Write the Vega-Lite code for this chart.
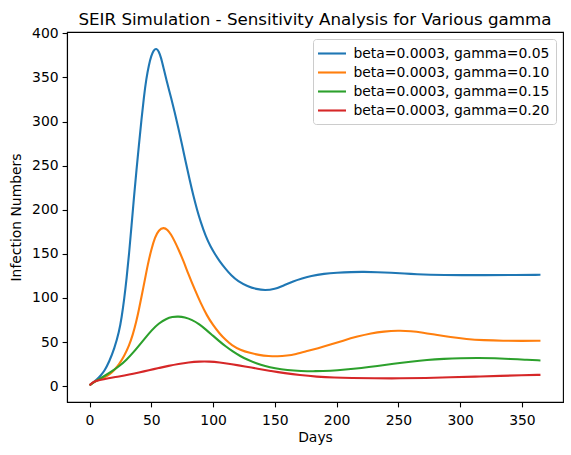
{
  "$schema": "https://vega.github.io/schema/vega-lite/v6.json",
  "autosize": {"type": "none"},
  "width": 496,
  "height": 370,
  "padding": {"left": 67, "top": 32, "right": 8, "bottom": 53},
  "background": "white",
  "title": {
    "text": "SEIR Simulation - Sensitivity Analysis for Various gamma",
    "font": "DejaVu Sans",
    "fontSize": 16.7,
    "fontWeight": "normal",
    "color": "black",
    "anchor": "middle",
    "baseline": "alphabetic",
    "offset": -15
  },
  "config": {
    "font": "DejaVu Sans",
    "view": {"stroke": "black", "strokeWidth": 1.1},
    "axis": {
      "grid": false,
      "domainColor": "black",
      "domainWidth": 1.1,
      "tickColor": "black",
      "tickWidth": 1.1,
      "tickSize": 4.9,
      "labelFont": "DejaVu Sans",
      "labelFontSize": 13.9,
      "labelColor": "black",
      "labelPadding": 4,
      "titleFont": "DejaVu Sans",
      "titleFontSize": 13.9,
      "titleFontWeight": "normal",
      "titleColor": "black"
    }
  },
  "datasets": {
    "seir": [
      {"day": 0, "infected": 1, "series": "beta=0.0003, gamma=0.05"},
      {"day": 3, "infected": 4, "series": "beta=0.0003, gamma=0.05"},
      {"day": 6, "infected": 7.5, "series": "beta=0.0003, gamma=0.05"},
      {"day": 9, "infected": 12, "series": "beta=0.0003, gamma=0.05"},
      {"day": 12, "infected": 17, "series": "beta=0.0003, gamma=0.05"},
      {"day": 16, "infected": 28, "series": "beta=0.0003, gamma=0.05"},
      {"day": 20, "infected": 42, "series": "beta=0.0003, gamma=0.05"},
      {"day": 24, "infected": 62, "series": "beta=0.0003, gamma=0.05"},
      {"day": 26, "infected": 78, "series": "beta=0.0003, gamma=0.05"},
      {"day": 28, "infected": 98, "series": "beta=0.0003, gamma=0.05"},
      {"day": 30, "infected": 122, "series": "beta=0.0003, gamma=0.05"},
      {"day": 32, "infected": 150, "series": "beta=0.0003, gamma=0.05"},
      {"day": 34, "infected": 182, "series": "beta=0.0003, gamma=0.05"},
      {"day": 36, "infected": 215, "series": "beta=0.0003, gamma=0.05"},
      {"day": 38, "infected": 245, "series": "beta=0.0003, gamma=0.05"},
      {"day": 40, "infected": 274, "series": "beta=0.0003, gamma=0.05"},
      {"day": 42, "infected": 302, "series": "beta=0.0003, gamma=0.05"},
      {"day": 44, "infected": 328, "series": "beta=0.0003, gamma=0.05"},
      {"day": 46, "infected": 349, "series": "beta=0.0003, gamma=0.05"},
      {"day": 48, "infected": 364, "series": "beta=0.0003, gamma=0.05"},
      {"day": 50, "infected": 375, "series": "beta=0.0003, gamma=0.05"},
      {"day": 52, "infected": 381, "series": "beta=0.0003, gamma=0.05"},
      {"day": 54, "infected": 383, "series": "beta=0.0003, gamma=0.05"},
      {"day": 56, "infected": 380, "series": "beta=0.0003, gamma=0.05"},
      {"day": 58, "infected": 372, "series": "beta=0.0003, gamma=0.05"},
      {"day": 60, "infected": 360, "series": "beta=0.0003, gamma=0.05"},
      {"day": 63, "infected": 343, "series": "beta=0.0003, gamma=0.05"},
      {"day": 66, "infected": 327, "series": "beta=0.0003, gamma=0.05"},
      {"day": 69, "infected": 310, "series": "beta=0.0003, gamma=0.05"},
      {"day": 72, "infected": 292, "series": "beta=0.0003, gamma=0.05"},
      {"day": 75, "infected": 273, "series": "beta=0.0003, gamma=0.05"},
      {"day": 78, "infected": 253, "series": "beta=0.0003, gamma=0.05"},
      {"day": 81, "infected": 234, "series": "beta=0.0003, gamma=0.05"},
      {"day": 84, "infected": 216, "series": "beta=0.0003, gamma=0.05"},
      {"day": 87, "infected": 200, "series": "beta=0.0003, gamma=0.05"},
      {"day": 90, "infected": 186, "series": "beta=0.0003, gamma=0.05"},
      {"day": 94, "infected": 170, "series": "beta=0.0003, gamma=0.05"},
      {"day": 98, "infected": 158, "series": "beta=0.0003, gamma=0.05"},
      {"day": 101, "infected": 151, "series": "beta=0.0003, gamma=0.05"},
      {"day": 105, "infected": 142, "series": "beta=0.0003, gamma=0.05"},
      {"day": 110, "infected": 133, "series": "beta=0.0003, gamma=0.05"},
      {"day": 115, "infected": 125, "series": "beta=0.0003, gamma=0.05"},
      {"day": 120, "infected": 119, "series": "beta=0.0003, gamma=0.05"},
      {"day": 128, "infected": 113, "series": "beta=0.0003, gamma=0.05"},
      {"day": 135, "infected": 110, "series": "beta=0.0003, gamma=0.05"},
      {"day": 142, "infected": 108.6, "series": "beta=0.0003, gamma=0.05"},
      {"day": 150, "infected": 110, "series": "beta=0.0003, gamma=0.05"},
      {"day": 157, "infected": 114, "series": "beta=0.0003, gamma=0.05"},
      {"day": 165, "infected": 119, "series": "beta=0.0003, gamma=0.05"},
      {"day": 172, "infected": 122, "series": "beta=0.0003, gamma=0.05"},
      {"day": 179, "infected": 125, "series": "beta=0.0003, gamma=0.05"},
      {"day": 190, "infected": 127.5, "series": "beta=0.0003, gamma=0.05"},
      {"day": 200, "infected": 128.6, "series": "beta=0.0003, gamma=0.05"},
      {"day": 212, "infected": 129.4, "series": "beta=0.0003, gamma=0.05"},
      {"day": 222, "infected": 129.6, "series": "beta=0.0003, gamma=0.05"},
      {"day": 233, "infected": 129.2, "series": "beta=0.0003, gamma=0.05"},
      {"day": 244, "infected": 128.5, "series": "beta=0.0003, gamma=0.05"},
      {"day": 255, "infected": 127.6, "series": "beta=0.0003, gamma=0.05"},
      {"day": 265, "infected": 126.9, "series": "beta=0.0003, gamma=0.05"},
      {"day": 276, "infected": 126.3, "series": "beta=0.0003, gamma=0.05"},
      {"day": 287, "infected": 126, "series": "beta=0.0003, gamma=0.05"},
      {"day": 300, "infected": 125.8, "series": "beta=0.0003, gamma=0.05"},
      {"day": 320, "infected": 125.8, "series": "beta=0.0003, gamma=0.05"},
      {"day": 340, "infected": 126, "series": "beta=0.0003, gamma=0.05"},
      {"day": 365, "infected": 126.2, "series": "beta=0.0003, gamma=0.05"},

      {"day": 0, "infected": 1, "series": "beta=0.0003, gamma=0.10"},
      {"day": 4, "infected": 5, "series": "beta=0.0003, gamma=0.10"},
      {"day": 8, "infected": 7.5, "series": "beta=0.0003, gamma=0.10"},
      {"day": 12, "infected": 10, "series": "beta=0.0003, gamma=0.10"},
      {"day": 16, "infected": 13, "series": "beta=0.0003, gamma=0.10"},
      {"day": 20, "infected": 18, "series": "beta=0.0003, gamma=0.10"},
      {"day": 24, "infected": 25, "series": "beta=0.0003, gamma=0.10"},
      {"day": 28, "infected": 34, "series": "beta=0.0003, gamma=0.10"},
      {"day": 32, "infected": 46, "series": "beta=0.0003, gamma=0.10"},
      {"day": 35, "infected": 58, "series": "beta=0.0003, gamma=0.10"},
      {"day": 38, "infected": 74, "series": "beta=0.0003, gamma=0.10"},
      {"day": 40, "infected": 87, "series": "beta=0.0003, gamma=0.10"},
      {"day": 42, "infected": 101, "series": "beta=0.0003, gamma=0.10"},
      {"day": 45, "infected": 122, "series": "beta=0.0003, gamma=0.10"},
      {"day": 47, "infected": 137, "series": "beta=0.0003, gamma=0.10"},
      {"day": 50, "infected": 155, "series": "beta=0.0003, gamma=0.10"},
      {"day": 53, "infected": 169, "series": "beta=0.0003, gamma=0.10"},
      {"day": 56, "infected": 177, "series": "beta=0.0003, gamma=0.10"},
      {"day": 60, "infected": 180, "series": "beta=0.0003, gamma=0.10"},
      {"day": 63, "infected": 177.5, "series": "beta=0.0003, gamma=0.10"},
      {"day": 66, "infected": 172, "series": "beta=0.0003, gamma=0.10"},
      {"day": 69, "infected": 164, "series": "beta=0.0003, gamma=0.10"},
      {"day": 72, "infected": 155, "series": "beta=0.0003, gamma=0.10"},
      {"day": 76, "infected": 142, "series": "beta=0.0003, gamma=0.10"},
      {"day": 80, "infected": 127, "series": "beta=0.0003, gamma=0.10"},
      {"day": 85, "infected": 110, "series": "beta=0.0003, gamma=0.10"},
      {"day": 90, "infected": 94, "series": "beta=0.0003, gamma=0.10"},
      {"day": 95, "infected": 80, "series": "beta=0.0003, gamma=0.10"},
      {"day": 100, "infected": 69, "series": "beta=0.0003, gamma=0.10"},
      {"day": 105, "infected": 60, "series": "beta=0.0003, gamma=0.10"},
      {"day": 110, "infected": 52.5, "series": "beta=0.0003, gamma=0.10"},
      {"day": 115, "infected": 46.5, "series": "beta=0.0003, gamma=0.10"},
      {"day": 122, "infected": 41, "series": "beta=0.0003, gamma=0.10"},
      {"day": 130, "infected": 37.5, "series": "beta=0.0003, gamma=0.10"},
      {"day": 137, "infected": 35.3, "series": "beta=0.0003, gamma=0.10"},
      {"day": 145, "infected": 34, "series": "beta=0.0003, gamma=0.10"},
      {"day": 152, "infected": 33.6, "series": "beta=0.0003, gamma=0.10"},
      {"day": 160, "infected": 34.5, "series": "beta=0.0003, gamma=0.10"},
      {"day": 167, "infected": 36.3, "series": "beta=0.0003, gamma=0.10"},
      {"day": 175, "infected": 39.3, "series": "beta=0.0003, gamma=0.10"},
      {"day": 185, "infected": 43, "series": "beta=0.0003, gamma=0.10"},
      {"day": 195, "infected": 47, "series": "beta=0.0003, gamma=0.10"},
      {"day": 205, "infected": 51.5, "series": "beta=0.0003, gamma=0.10"},
      {"day": 217, "infected": 56.4, "series": "beta=0.0003, gamma=0.10"},
      {"day": 228, "infected": 60, "series": "beta=0.0003, gamma=0.10"},
      {"day": 238, "infected": 62, "series": "beta=0.0003, gamma=0.10"},
      {"day": 250, "infected": 63, "series": "beta=0.0003, gamma=0.10"},
      {"day": 260, "infected": 62.5, "series": "beta=0.0003, gamma=0.10"},
      {"day": 270, "infected": 60.7, "series": "beta=0.0003, gamma=0.10"},
      {"day": 280, "infected": 58.3, "series": "beta=0.0003, gamma=0.10"},
      {"day": 292, "infected": 55.6, "series": "beta=0.0003, gamma=0.10"},
      {"day": 305, "infected": 53.3, "series": "beta=0.0003, gamma=0.10"},
      {"day": 319, "infected": 52, "series": "beta=0.0003, gamma=0.10"},
      {"day": 335, "infected": 51.4, "series": "beta=0.0003, gamma=0.10"},
      {"day": 350, "infected": 51.3, "series": "beta=0.0003, gamma=0.10"},
      {"day": 365, "infected": 51.4, "series": "beta=0.0003, gamma=0.10"},

      {"day": 0, "infected": 1, "series": "beta=0.0003, gamma=0.15"},
      {"day": 4, "infected": 5, "series": "beta=0.0003, gamma=0.15"},
      {"day": 8, "infected": 8, "series": "beta=0.0003, gamma=0.15"},
      {"day": 13, "infected": 12.3, "series": "beta=0.0003, gamma=0.15"},
      {"day": 18, "infected": 16.8, "series": "beta=0.0003, gamma=0.15"},
      {"day": 24, "infected": 22.5, "series": "beta=0.0003, gamma=0.15"},
      {"day": 30, "infected": 30, "series": "beta=0.0003, gamma=0.15"},
      {"day": 35, "infected": 37.5, "series": "beta=0.0003, gamma=0.15"},
      {"day": 40, "infected": 46, "series": "beta=0.0003, gamma=0.15"},
      {"day": 45, "infected": 54.5, "series": "beta=0.0003, gamma=0.15"},
      {"day": 50, "infected": 63, "series": "beta=0.0003, gamma=0.15"},
      {"day": 56, "infected": 71.3, "series": "beta=0.0003, gamma=0.15"},
      {"day": 62, "infected": 76.3, "series": "beta=0.0003, gamma=0.15"},
      {"day": 67, "infected": 78.6, "series": "beta=0.0003, gamma=0.15"},
      {"day": 72, "infected": 79, "series": "beta=0.0003, gamma=0.15"},
      {"day": 77, "infected": 78, "series": "beta=0.0003, gamma=0.15"},
      {"day": 83, "infected": 75.2, "series": "beta=0.0003, gamma=0.15"},
      {"day": 89, "infected": 70, "series": "beta=0.0003, gamma=0.15"},
      {"day": 94, "infected": 64.3, "series": "beta=0.0003, gamma=0.15"},
      {"day": 100, "infected": 57, "series": "beta=0.0003, gamma=0.15"},
      {"day": 105, "infected": 51, "series": "beta=0.0003, gamma=0.15"},
      {"day": 110, "infected": 45.2, "series": "beta=0.0003, gamma=0.15"},
      {"day": 116, "infected": 39.2, "series": "beta=0.0003, gamma=0.15"},
      {"day": 122, "infected": 34, "series": "beta=0.0003, gamma=0.15"},
      {"day": 128, "infected": 29.8, "series": "beta=0.0003, gamma=0.15"},
      {"day": 135, "infected": 25.8, "series": "beta=0.0003, gamma=0.15"},
      {"day": 142, "infected": 22.6, "series": "beta=0.0003, gamma=0.15"},
      {"day": 150, "infected": 20.1, "series": "beta=0.0003, gamma=0.15"},
      {"day": 160, "infected": 18.1, "series": "beta=0.0003, gamma=0.15"},
      {"day": 171, "infected": 17.1, "series": "beta=0.0003, gamma=0.15"},
      {"day": 183, "infected": 16.8, "series": "beta=0.0003, gamma=0.15"},
      {"day": 195, "infected": 17.4, "series": "beta=0.0003, gamma=0.15"},
      {"day": 207, "infected": 18.7, "series": "beta=0.0003, gamma=0.15"},
      {"day": 220, "infected": 20.5, "series": "beta=0.0003, gamma=0.15"},
      {"day": 233, "infected": 22.8, "series": "beta=0.0003, gamma=0.15"},
      {"day": 246, "infected": 25.3, "series": "beta=0.0003, gamma=0.15"},
      {"day": 260, "infected": 27.7, "series": "beta=0.0003, gamma=0.15"},
      {"day": 273, "infected": 29.7, "series": "beta=0.0003, gamma=0.15"},
      {"day": 287, "infected": 31, "series": "beta=0.0003, gamma=0.15"},
      {"day": 300, "infected": 31.7, "series": "beta=0.0003, gamma=0.15"},
      {"day": 315, "infected": 32, "series": "beta=0.0003, gamma=0.15"},
      {"day": 328, "infected": 31.6, "series": "beta=0.0003, gamma=0.15"},
      {"day": 341, "infected": 30.8, "series": "beta=0.0003, gamma=0.15"},
      {"day": 352, "infected": 30, "series": "beta=0.0003, gamma=0.15"},
      {"day": 365, "infected": 29.1, "series": "beta=0.0003, gamma=0.15"},

      {"day": 0, "infected": 1, "series": "beta=0.0003, gamma=0.20"},
      {"day": 3, "infected": 5, "series": "beta=0.0003, gamma=0.20"},
      {"day": 8, "infected": 7, "series": "beta=0.0003, gamma=0.20"},
      {"day": 15, "infected": 9, "series": "beta=0.0003, gamma=0.20"},
      {"day": 24, "infected": 11, "series": "beta=0.0003, gamma=0.20"},
      {"day": 32, "infected": 13, "series": "beta=0.0003, gamma=0.20"},
      {"day": 40, "infected": 15.5, "series": "beta=0.0003, gamma=0.20"},
      {"day": 48, "infected": 18, "series": "beta=0.0003, gamma=0.20"},
      {"day": 56, "infected": 20.5, "series": "beta=0.0003, gamma=0.20"},
      {"day": 64, "infected": 23, "series": "beta=0.0003, gamma=0.20"},
      {"day": 72, "infected": 25.2, "series": "beta=0.0003, gamma=0.20"},
      {"day": 80, "infected": 26.9, "series": "beta=0.0003, gamma=0.20"},
      {"day": 89, "infected": 27.9, "series": "beta=0.0003, gamma=0.20"},
      {"day": 97, "infected": 27.9, "series": "beta=0.0003, gamma=0.20"},
      {"day": 105, "infected": 26.9, "series": "beta=0.0003, gamma=0.20"},
      {"day": 115, "infected": 24.8, "series": "beta=0.0003, gamma=0.20"},
      {"day": 126, "infected": 22.3, "series": "beta=0.0003, gamma=0.20"},
      {"day": 136, "infected": 19.8, "series": "beta=0.0003, gamma=0.20"},
      {"day": 147, "infected": 17.1, "series": "beta=0.0003, gamma=0.20"},
      {"day": 158, "infected": 14.7, "series": "beta=0.0003, gamma=0.20"},
      {"day": 170, "infected": 12.5, "series": "beta=0.0003, gamma=0.20"},
      {"day": 184, "infected": 10.7, "series": "beta=0.0003, gamma=0.20"},
      {"day": 198, "infected": 9.6, "series": "beta=0.0003, gamma=0.20"},
      {"day": 212, "infected": 9.1, "series": "beta=0.0003, gamma=0.20"},
      {"day": 230, "infected": 8.8, "series": "beta=0.0003, gamma=0.20"},
      {"day": 252, "infected": 8.8, "series": "beta=0.0003, gamma=0.20"},
      {"day": 272, "infected": 9.2, "series": "beta=0.0003, gamma=0.20"},
      {"day": 292, "infected": 10, "series": "beta=0.0003, gamma=0.20"},
      {"day": 312, "infected": 10.8, "series": "beta=0.0003, gamma=0.20"},
      {"day": 333, "infected": 11.7, "series": "beta=0.0003, gamma=0.20"},
      {"day": 350, "infected": 12.3, "series": "beta=0.0003, gamma=0.20"},
      {"day": 365, "infected": 12.8, "series": "beta=0.0003, gamma=0.20"}
    ]
  },
  "data": {"name": "seir"},
  "mark": {"type": "line", "interpolate": "basis", "strokeWidth": 2.1},
  "encoding": {
    "x": {
      "field": "day",
      "type": "quantitative",
      "scale": {"domain": [-18.25, 383.25], "nice": false, "zero": false},
      "axis": {
        "title": "Days",
        "values": [0, 50, 100, 150, 200, 250, 300, 350],
        "labelPadding": 7,
        "titlePadding": 3
      }
    },
    "y": {
      "field": "infected",
      "type": "quantitative",
      "scale": {"domain": [-18, 401.5], "nice": false, "zero": false},
      "axis": {
        "title": "Infection Numbers",
        "values": [0, 50, 100, 150, 200, 250, 300, 350, 400],
        "titlePadding": 8
      }
    },
    "color": {
      "field": "series",
      "type": "nominal",
      "scale": {
        "domain": [
          "beta=0.0003, gamma=0.05",
          "beta=0.0003, gamma=0.10",
          "beta=0.0003, gamma=0.15",
          "beta=0.0003, gamma=0.20"
        ],
        "range": ["#1f77b4", "#ff7f0e", "#2ca02c", "#d62728"]
      },
      "legend": {
        "title": null,
        "orient": "top-right",
        "offset": 7,
        "symbolType": "M-2,0H2",
        "symbolSize": 196,
        "symbolStrokeWidth": 2.1,
        "symbolOffset": 4.5,
        "labelFont": "DejaVu Sans",
        "labelFontSize": 13.9,
        "labelColor": "black",
        "labelOffset": 13,
        "labelLimit": 400,
        "rowPadding": 3,
        "padding": 6,
        "strokeColor": "#cccccc",
        "fillColor": "white",
        "cornerRadius": 3
      }
    }
  }
}
